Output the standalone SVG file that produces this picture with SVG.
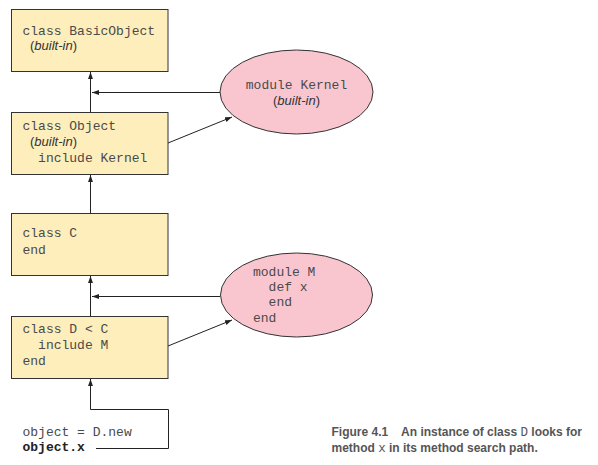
<svg xmlns="http://www.w3.org/2000/svg" width="598" height="465" viewBox="0 0 598 465">
  <defs>
    <marker id="arrow" viewBox="0 0 10 10" refX="10" refY="5" markerWidth="7" markerHeight="7" markerUnits="userSpaceOnUse" orient="auto">
      <path d="M0,1.5 L10,5 L0,8.5 Z" fill="#222"/>
    </marker>
    <style>
      .cls { fill: #fdeebb; stroke: #333; stroke-width: 1; }
      .mod { fill: #f9c6d0; stroke: #333; stroke-width: 1; }
      .code { font-family: "Liberation Mono", "DejaVu Sans Mono", monospace; font-size: 13px; fill: #4a4a4a; }
      .ital { font-family: "Liberation Sans", Arial, sans-serif; font-size: 13px; font-style: italic; fill: #333; }
      .plain { font-family: "Liberation Sans", Arial, sans-serif; font-size: 13px; fill: #333; }
      .link { fill: none; stroke: #222; stroke-width: 1; }
      .cap { font-family: "Liberation Sans", Arial, sans-serif; font-size: 12px; font-weight: bold; fill: #555; }
      .capmono { font-family: "Liberation Mono", monospace; font-weight: normal; font-size: 12.5px; }
    </style>
  </defs>

  <g id="BasicObject">
    <rect class="cls" x="11.5" y="9.5" width="156.5" height="62"/>
    <text class="code" x="22.5" y="35">class BasicObject</text>
    <text x="30" y="50"><tspan class="plain">(</tspan><tspan class="ital">built-in</tspan><tspan class="plain">)</tspan></text>
  </g>

  <g id="Object">
    <rect class="cls" x="11.5" y="112.5" width="156.5" height="62"/>
    <text class="code" x="22.5" y="130">class Object</text>
    <text x="30" y="146"><tspan class="plain">(</tspan><tspan class="ital">built-in</tspan><tspan class="plain">)</tspan></text>
    <text class="code" x="22.5" y="162" xml:space="preserve">  include Kernel</text>
  </g>

  <g id="C">
    <rect class="cls" x="11.5" y="213.5" width="156.5" height="62"/>
    <text class="code" x="22.5" y="237">class C</text>
    <text class="code" x="22.5" y="254">end</text>
  </g>

  <g id="D">
    <rect class="cls" x="11.5" y="316.5" width="156.5" height="62"/>
    <text class="code" x="22.5" y="333">class D &lt; C</text>
    <text class="code" x="22.5" y="349" xml:space="preserve">  include M</text>
    <text class="code" x="22.5" y="365">end</text>
  </g>

  <g id="Kernel">
    <ellipse class="mod" cx="296.5" cy="92" rx="76.5" ry="42"/>
    <text class="code" x="296.5" y="89" text-anchor="middle">module Kernel</text>
    <text x="296.5" y="105" text-anchor="middle"><tspan class="plain">(</tspan><tspan class="ital">built-in</tspan><tspan class="plain">)</tspan></text>
  </g>

  <g id="M">
    <ellipse class="mod" cx="296.5" cy="295" rx="76" ry="42"/>
    <text class="code" x="253" y="276">module M</text>
    <text class="code" x="253" y="291" xml:space="preserve">  def x</text>
    <text class="code" x="253" y="306" xml:space="preserve">  end</text>
    <text class="code" x="253" y="322">end</text>
  </g>

  <g id="caller">
    <text class="code" x="22.5" y="436">object = D.new</text>
    <text class="code" x="22.5" y="451" font-weight="bold" style="fill:#222">object.x</text>
  </g>

  <g id="connectors">
    <line class="link" x1="90.5" y1="112.5" x2="90.5" y2="72" marker-end="url(#arrow)"/>
    <line class="link" x1="90.5" y1="213.5" x2="90.5" y2="175" marker-end="url(#arrow)"/>
    <line class="link" x1="90.5" y1="316.5" x2="90.5" y2="276" marker-end="url(#arrow)"/>
    <line class="link" x1="220" y1="92.5" x2="92" y2="92.5" marker-end="url(#arrow)"/>
    <line class="link" x1="220" y1="296.5" x2="92" y2="296.5" marker-end="url(#arrow)"/>
    <line class="link" x1="168" y1="143" x2="232" y2="117" marker-end="url(#arrow)"/>
    <line class="link" x1="168" y1="346" x2="232" y2="320" marker-end="url(#arrow)"/>
    <polyline class="link" points="96,448.5 168.5,448.5 168.5,409.5 90.5,409.5 90.5,379" marker-end="url(#arrow)"/>
  </g>

  <g id="caption">
    <text class="cap" x="331.5" y="436" xml:space="preserve">Figure 4.1    An instance of class <tspan class="capmono">D</tspan> looks for</text>
    <text class="cap" x="331.5" y="452">method <tspan class="capmono">x</tspan> in its method search path.</text>
  </g>
</svg>
